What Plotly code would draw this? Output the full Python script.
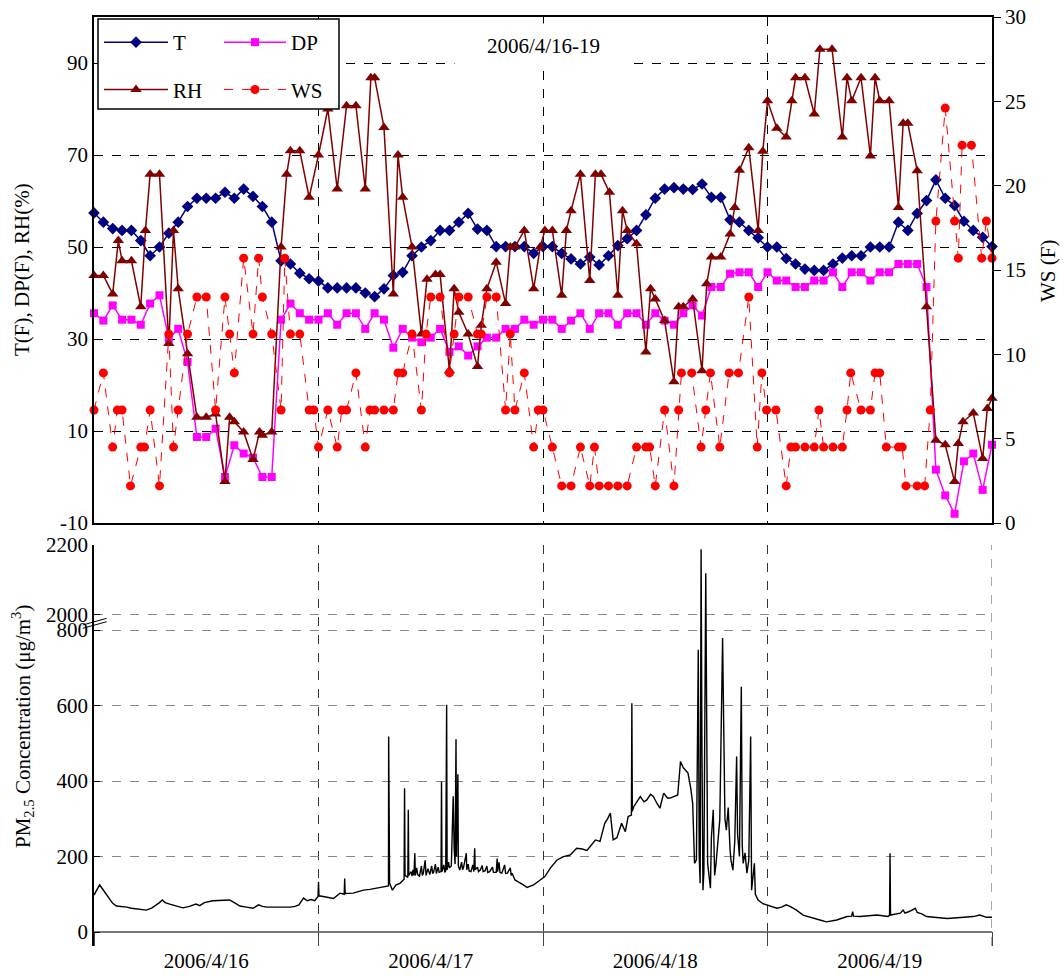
import plotly.graph_objects as go
import pandas as pd

# ---------------- data ----------------
BASE = pd.Timestamp("2006-04-16 00:00")

hours_hourly = list(range(97))  # hourly observation times (h after 4/16 00:00)

T_vals = [57.4, 55.4, 54.0, 53.6, 53.6, 51.4, 48.1, 50.0, 53.0, 55.4,
          58.8, 60.6, 60.6, 60.6, 61.9, 60.6, 62.6, 61.0, 58.8, 55.4,
          47.0, 46.3, 44.3, 43.1, 42.6, 41.1, 41.1, 41.1, 41.1, 40.0,
          39.2, 40.9, 43.8, 44.5, 48.1, 50.0, 51.4, 53.6, 53.6, 55.4,
          57.3, 53.9, 53.6, 50.1, 50.1, 50.1, 50.1, 48.6, 50.1, 50.1,
          48.6, 47.4, 46.3, 47.8, 46.1, 48.1, 50.3, 51.8, 53.6, 57.0,
          60.6, 62.6, 62.9, 62.6, 62.5, 63.7, 60.8, 60.8, 55.9, 55.4,
          53.6, 52.0, 50.0, 50.0, 47.5, 46.3, 45.2, 44.9, 44.9, 46.3,
          47.6, 48.1, 48.1, 50.0, 50.0, 50.0, 55.4, 53.6, 57.3, 60.1,
          64.6, 60.6, 59.0, 55.6, 53.6, 52.1, 50.1]

DP_vals = [35.6, 34.0, 37.3, 34.2, 34.2, 33.1, 37.7, 39.5, 30.1, 32.2,
           25.0, 8.7, 8.7, 10.5, 0.0, 6.9, 5.1, 4.2, 0.0, 0.0,
           34.2, 37.7, 35.6, 34.2, 34.2, 35.6, 33.1, 35.6, 35.6, 32.2,
           35.6, 34.2, 28.1, 32.2, 30.3, 29.3, 30.3, 32.2, 27.2, 28.4,
           26.4, 28.4, 30.3, 30.3, 32.2, 32.2, 34.2, 33.1, 34.2, 34.2,
           32.2, 34.0, 35.6, 32.2, 35.6, 35.6, 33.1, 35.6, 35.6, 33.1,
           35.6, 34.0, 33.1, 35.6, 37.3, 35.1, 41.3, 41.3, 44.2, 44.5,
           44.5, 41.3, 44.5, 42.7, 42.7, 41.3, 41.3, 42.7, 42.7, 44.5,
           41.3, 44.5, 44.5, 42.7, 44.5, 44.5, 46.3, 46.3, 46.3, 41.3,
           1.6, -4.0, -8.0, 3.4, 5.1, -2.8, 7.0]

RH_hours = [0, 1, 2, 2.6, 3, 4, 5, 5.5, 6, 7, 8, 8.5, 9, 10, 11, 12, 13, 14, 14.5, 15,
            16, 17, 17.7, 18, 19, 20, 20.6, 21, 22, 23, 24, 25, 26, 27, 28, 29, 29.6, 30,
            31, 32, 32.5, 33, 34, 35, 35.6, 36.5, 37, 38, 38.5, 39, 40, 41, 41.4, 42, 43,
            44, 44.5, 45, 46, 47, 47.7, 48.2, 49, 50, 50.5, 51, 52, 53, 53.6, 54.2, 55.1,
            56, 56.5, 57, 58, 59, 59.5, 60, 61, 62, 62.5, 63, 64, 65, 65.5, 66, 67, 68,
            68.5, 69, 70, 71, 71.5, 72, 73, 74, 74.6, 75, 76, 77, 77.6, 78.9, 80, 80.5,
            81, 82, 83, 83.5, 84, 85, 86, 86.5, 87, 88, 89, 90, 91, 92, 92.4, 92.9, 94,
            95, 95.5, 96]
RH_vals = [43.8, 43.8, 39.8, 51.4, 47.0, 47.0, 37.0, 53.6, 65.8, 65.8, 29.0, 53.6, 40.9,
           26.8, 13.0, 13.0, 13.7, -1.0, 13.0, 12.0,
           9.8, 3.8, 9.8, 9.1, 9.8, 50.0, 65.8, 70.9, 70.9, 60.8, 70.0, 80.0, 62.6, 80.7,
           80.7, 62.6, 86.8, 86.8,
           76.0, 39.8, 70.0, 60.8, 50.0, 31.1, 43.0, 44.0, 44.0, 23.1, 40.9, 35.8, 31.1,
           24.0, 33.0, 40.9, 46.7,
           37.7, 50.0, 50.0, 53.6, 40.9, 50.0, 53.6, 53.6, 39.5, 53.6, 57.9, 65.8, 42.7,
           65.8, 65.8, 61.9,
           39.5, 57.9, 53.6, 50.7, 27.2, 40.9, 38.7, 34.0, 20.7, 37.0, 37.0, 38.7, 23.1,
           42.0, 47.8, 47.8, 52.8,
           58.6, 66.7, 71.6, 53.6, 70.8, 81.8, 75.8, 73.9, 81.8, 86.8, 86.8, 78.9, 93.0,
           93.0, 73.9, 86.8,
           81.8, 86.8, 69.8, 86.8, 81.8, 81.8, 58.6, 76.9, 76.9, 66.6, 37.0, 8.0, 7.0, -1.0,
           7.3, 12.0, 13.9,
           4.0, 14.9, 17.1]

WS_hours = [0, 1, 2, 2.5, 3, 3.9, 5, 5.4, 6, 7, 8, 8.5, 9, 10, 11, 12, 13, 14, 14.5, 15,
            16, 17, 17.6, 18, 19, 20, 20.4, 21, 22, 23, 23.5, 24, 25, 26, 26.5, 27, 28, 29,
            29.5, 30, 31, 32, 32.5, 33, 34, 35, 35.5, 36, 37, 38, 38.5, 39, 40, 41, 41.4,
            42, 43, 44, 44.5, 45, 46, 47, 47.5, 48, 49, 50, 51, 52, 53, 53.5, 54, 55, 56,
            57, 58, 59, 59.4, 60, 61, 62, 62.5, 62.8, 63.9, 64.9, 65.4, 65.9, 66.9, 67.9,
            68.9, 70, 70.9, 71.4, 71.9, 72.9, 74, 74.5, 75, 76, 77, 77.5, 78, 79, 80, 80.5,
            80.9, 82, 83, 83.5, 84, 84.7, 86, 86.4, 86.8, 88, 88.8, 89.4, 90, 91, 92, 92.4,
            92.8, 93.8, 94.9, 95.4, 96]
WS_vals = [6.7, 8.9, 4.5, 6.7, 6.7, 2.2, 4.5, 4.5, 6.7, 2.2, 11.2, 4.5, 6.7, 11.2, 13.4,
           13.4, 6.7, 13.4, 11.2, 8.9,
           15.7, 11.2, 15.7, 13.4, 11.2, 6.7, 15.7, 11.2, 11.2, 6.7, 6.7, 4.5, 6.7, 4.5,
           6.7, 6.7, 8.9, 4.5,
           6.7, 6.7, 6.7, 6.7, 8.9, 8.9, 11.2, 6.7, 11.2, 13.4, 13.4, 8.9, 11.2, 13.4,
           13.4, 11.2, 11.2,
           13.4, 13.4, 6.7, 11.2, 6.7, 8.9, 4.5, 6.7, 6.7, 4.5, 2.2, 2.2, 4.5, 2.2, 4.5,
           2.2, 2.2, 2.2,
           2.2, 4.5, 4.5, 4.5, 2.2, 6.7, 2.2, 6.7, 8.9, 8.9, 4.5, 6.7, 8.9, 4.5, 8.9,
           8.9, 13.4, 4.5, 8.9, 6.7, 6.7, 2.2, 4.5, 4.5, 4.5, 4.5, 6.7, 4.5, 4.5, 4.5, 6.7,
           8.9, 6.7, 6.7, 8.9, 8.9, 4.5, 4.5, 4.5, 2.2, 2.2, 2.2, 6.7, 17.9, 24.6, 17.9, 15.7,
           22.4, 22.4, 15.7, 17.9, 15.7]

PM_hours = [0.0, 0.3, 0.6, 0.8, 1.0, 1.4, 1.7, 2.0, 2.4, 3.0, 3.5, 4.0, 4.5, 5.0, 5.6, 6.2,
            6.7, 7.0, 7.3, 7.6, 8.1, 8.8, 9.5, 10.2, 10.9, 11.3, 11.8, 12.7, 13.5, 14.5,
            15.0, 15.6, 16.3, 17.0, 17.6, 18.0, 18.5, 19.5, 20.3, 21.0, 21.5, 21.9, 22.4,
            22.8, 23.2, 23.6, 23.95, 24.0, 24.05, 24.5, 25.0, 25.6, 26.3, 26.75, 26.8,
            26.85, 27.7, 28.3, 28.8, 29.5, 30.2, 30.8, 31.4, 31.48, 31.5, 31.52, 31.6,
            31.9, 32.3, 32.7, 33.0, 33.15, 33.2, 33.25, 33.55, 33.6, 33.65,
            33.9, 34.0, 34.1, 34.2, 34.3, 34.35, 34.5, 34.6, 34.8, 35.0, 35.1, 35.2, 35.4,
            35.5, 35.7, 35.9, 36.1, 36.2, 36.3, 36.5, 36.6, 36.8, 36.9, 37.1, 37.15, 37.2,
            37.4, 37.5, 37.6, 37.7, 37.75, 37.9, 38.0, 38.2, 38.3, 38.4, 38.5, 38.6, 38.7,
            38.75, 38.9, 38.95, 39.1, 39.3, 39.4, 39.5, 39.8, 39.85, 40.0, 40.1, 40.3, 40.5,
            40.6, 40.7, 40.75, 41.0, 41.1, 41.3, 41.5, 41.6, 41.8, 42.0, 42.1, 42.3, 42.6,
            42.7, 43.0, 43.1, 43.15, 43.3, 43.4, 43.6, 43.9, 44.0, 44.2, 44.5, 44.6, 44.7,
            45.0, 45.4, 45.9, 46.3, 47.0, 47.7, 48.2, 48.8,
            49.5, 50.2, 50.9, 51.6, 52.2, 52.7, 53.2, 53.6, 54.1, 54.6, 54.9, 55.2, 55.5,
            55.9, 56.4, 56.8, 57.1, 57.45, 57.5, 57.55, 57.7, 58.4, 58.8, 59.1, 59.5, 59.8,
            60.2, 60.5, 60.9, 61.3, 61.6, 62.0, 62.4, 62.7, 63.0, 63.2, 63.5, 63.8, 64.0,
            64.2, 64.4, 64.6, 64.7, 64.8, 64.9, 65.0, 65.1, 65.2, 65.4, 65.6, 65.9, 66.0,
            66.2, 66.35, 66.5, 66.9, 67.2, 67.3, 67.45, 67.6, 67.8, 68.0, 68.1, 68.3, 68.5,
            68.7, 68.8, 69.0, 69.2, 69.3, 69.4, 69.6, 69.8, 70.0, 70.2, 70.3, 70.5, 70.6,
            70.7, 71.0, 71.5, 71.9, 72.3, 73.0, 73.5,
            74.0, 74.4, 75.1, 75.8, 76.9, 77.6, 78.3, 79.4, 80.5, 81.0, 81.1, 81.2, 81.9,
            82.8, 83.7, 84.3, 84.9, 85.05, 85.1, 85.15, 85.6, 86.2, 86.5, 86.7, 87.2, 87.8,
            88.0, 88.5, 89.0, 90.0, 91.2, 92.3, 93.3, 94.0, 94.7, 95.4, 96.0]
PM_vals = [98, 112, 125, 118, 111, 98, 85, 76, 69, 68, 66, 63, 62, 60, 58, 64,
           72, 78, 85, 78, 74, 70, 64, 68, 74, 70, 78, 83, 84, 85,
           78, 69, 66, 63, 72, 68, 66, 67, 66, 66, 68, 72, 90,
           83, 86, 83, 94, 133, 96, 94, 92, 89, 103, 100, 142,
           102, 103, 108, 111, 113, 116, 118, 120, 122, 518, 173, 130,
           111, 125, 129, 138, 140, 381, 150, 145, 324, 150,
           160, 148, 165, 150, 209, 150, 170, 152, 148, 175, 150, 155, 190,
           150, 168, 152, 175, 155, 158, 180, 155, 172, 158, 160, 399, 160,
           178, 158, 162, 602, 165, 185, 170, 175, 300, 360, 222, 180, 511,
           200, 418, 175, 164, 185, 165, 170, 209, 165, 180, 162, 160, 178,
           160, 222, 165, 172, 160, 164, 176, 160, 162, 175, 158, 160, 172,
           158, 158, 195, 160, 185, 158, 156, 178, 155, 156, 170, 150, 156,
           138, 133, 125, 118, 125, 138, 147, 170,
           191, 200, 204, 222, 220, 216, 232, 244, 240, 288, 300, 315, 244,
           250, 288, 266, 306, 310, 606, 320, 332, 359, 345, 350, 365, 359,
           340, 328, 368, 355, 355, 360, 363, 452, 435, 430, 421, 380, 341,
           182, 191, 748, 200, 129, 2188, 465, 111, 160, 2119, 182, 116, 250,
           324, 150, 182, 297, 779, 580, 300, 270, 330, 217, 190, 164, 240,
           465, 260, 200, 650, 230, 182, 210, 156, 190, 518, 111, 150, 182,
           100, 85, 75, 72, 67, 63, 66,
           72, 68, 58, 45, 36, 32, 27, 32, 41, 42, 54, 42, 41,
           44, 45, 43, 41, 45, 209, 45, 48, 50, 58, 50, 55, 63,
           52, 48, 41, 38, 36, 38, 39, 41, 45, 39, 39]

PM_ticks = [0, 200, 400, 600, 800, 2000, 2200]
LEFT_TICKS = [-10, 10, 30, 50, 70, 90]
WS_TICKS = [0, 5, 10, 15, 20, 25, 30]

# ---------------- helpers ----------------
FONT = "Liberation Serif"
GAP = 40.6          # axis units used by the 800 -> 2000 break
UPPER_SCALE = 0.924  # compression of the 2000-2200 section


def to_time(hours):
    return [BASE + pd.Timedelta(hours=h) for h in hours]


def pm_axis(v):
    if v <= 800:
        return v
    if v >= 2000:
        return 800 + GAP + (v - 2000) * UPPER_SCALE
    return 800 + (v - 800) / 1200 * GAP


def px_x(px):
    return (px - 94) / 898


def px_y(py):
    return (946 - py) / 929


x_range = [BASE, BASE + pd.Timedelta(days=4)]

fig = go.Figure()

fig.add_trace(go.Scatter(
    x=to_time(hours_hourly), y=T_vals, name="T", mode="lines+markers",
    line=dict(color="#000080", width=1.5),
    marker=dict(symbol="diamond", size=9, color="#000080"),
    xaxis="x", yaxis="y", legend="legend", legendgroup="t", cliponaxis=False))
fig.add_trace(go.Scatter(
    x=to_time(hours_hourly), y=DP_vals, name="DP", mode="lines+markers",
    line=dict(color="#FF00FF", width=1.5),
    marker=dict(symbol="square", size=8, color="#FF00FF"),
    xaxis="x", yaxis="y", legend="legend2", legendgroup="dp", cliponaxis=False))
fig.add_trace(go.Scatter(
    x=to_time(RH_hours), y=RH_vals, name="RH", mode="lines+markers",
    line=dict(color="#800000", width=1.5),
    marker=dict(symbol="triangle-up", size=10, color="#800000"),
    xaxis="x", yaxis="y", legend="legend", legendgroup="rh", cliponaxis=False))
fig.add_trace(go.Scatter(
    x=to_time(WS_hours), y=WS_vals, name="WS", mode="lines+markers",
    line=dict(color="#FF0000", width=1, dash="dash"),
    marker=dict(symbol="circle", size=9, color="#FF0000"),
    xaxis="x", yaxis="y2", legend="legend2", legendgroup="ws", cliponaxis=False))

fig.add_trace(go.Scatter(
    x=to_time(PM_hours), y=[pm_axis(v) for v in PM_vals], mode="lines",
    line=dict(color="black", width=1.4), showlegend=False,
    xaxis="x2", yaxis="y3"))

TOP_BOTTOM = px_y(523)
BOT_TOP = px_y(545)
tickfont = dict(family=FONT, size=21, color="black")

fig.update_layout(
    template="none",
    width=1064, height=976,
    margin=dict(l=94, r=72, t=17, b=30, pad=0),
    paper_bgcolor="white", plot_bgcolor="white",
    font=dict(family=FONT, size=21, color="black"),
    xaxis=dict(domain=[0, 1], anchor="y", type="date", range=x_range,
               showticklabels=False, ticks="", dtick=86400000, tick0=BASE,
               showgrid=True, gridcolor="black", griddash="dash", gridwidth=1,
               showline=True, mirror=True, linecolor="black", linewidth=1.5,
               zeroline=False, automargin=False),
    yaxis=dict(domain=[TOP_BOTTOM, 1], anchor="x", range=[-10, 100],
               tickvals=LEFT_TICKS, ticktext=[str(v) for v in LEFT_TICKS],
               ticks="inside", ticklen=5, tickcolor="black",
               showgrid=True, gridcolor="black", griddash="dash", gridwidth=1,
               showline=True, linecolor="black", linewidth=1.5, zeroline=False,
               tickfont=tickfont, automargin=False),
    yaxis2=dict(overlaying="y", side="right", anchor="x", range=[0, 30],
                tickvals=WS_TICKS, ticks="outside", ticklen=7, tickcolor="black",
                showgrid=False, zeroline=False, showline=True, linecolor="black",
                linewidth=1.5, tickfont=tickfont, automargin=False),
    xaxis2=dict(domain=[0, 1], anchor="y3", type="date", range=x_range,
                dtick=86400000, tick0=BASE, ticklabelmode="period",
                tickformat="%Y/%-m/%-d", ticks="inside", ticklen=14,
                tickcolor="#444", showgrid=True, gridcolor="#333",
                griddash="dash", gridwidth=1, showline=False, zeroline=False,
                tickfont=tickfont, automargin=False),
    yaxis3=dict(domain=[0, BOT_TOP], anchor="x2",
                range=[-37, pm_axis(2200)],
                tickvals=[pm_axis(v) for v in PM_ticks],
                ticktext=[str(v) for v in PM_ticks],
                ticks="inside", ticklen=6, tickcolor="black",
                showgrid=True, gridcolor="#888", griddash="dash", gridwidth=1.2,
                zeroline=True, zerolinecolor="#777", zerolinewidth=1.5,
                showline=True, linecolor="black", linewidth=1.5,
                tickfont=tickfont, automargin=False),
    legend=dict(x=px_x(99), y=px_y(22), xanchor="left", yanchor="top",
                bgcolor="rgba(0,0,0,0)", borderwidth=0, itemwidth=64,
                traceorder="grouped", tracegroupgap=17,
                font=dict(family=FONT, size=21, color="black")),
    legend2=dict(x=px_x(219), y=px_y(22), xanchor="left", yanchor="top",
                 bgcolor="rgba(0,0,0,0)", borderwidth=0, itemwidth=62,
                 traceorder="grouped", tracegroupgap=17,
                 font=dict(family=FONT, size=21, color="black")),
    showlegend=True,
)

# legend frame (white box covering grid lines)
fig.add_shape(type="rect", xref="paper", yref="paper",
              x0=px_x(98), x1=px_x(339), y0=px_y(109), y1=px_y(19),
              fillcolor="white", line=dict(color="black", width=1.5), layer="above")

# right edge grid line of the lower panel
fig.add_shape(type="line", xref="x2", yref="paper",
              x0=x_range[1], x1=x_range[1], y0=0, y1=BOT_TOP,
              line=dict(color="#555", width=1, dash="dash"))

# axis-break marks on the PM2.5 axis
for yb, yt in [(625, 618.3), (628.3, 621.7)]:
    fig.add_shape(type="line", xref="paper", yref="paper",
                  x0=px_x(82.7), x1=px_x(106.7), y0=px_y(yb), y1=px_y(yt),
                  line=dict(color="black", width=1))

# panel title
fig.add_annotation(text="2006/4/16-19", xref="paper", yref="paper",
                   x=px_x(543), y=px_y(46), xanchor="center", yanchor="middle",
                   showarrow=False, bgcolor="white", width=175, height=42,
                   font=dict(family=FONT, size=21, color="black"))

# axis titles
fig.add_annotation(text="T(F), DP(F), RH(%)", xref="paper", yref="paper",
                   x=px_x(22), y=px_y(270), xanchor="center", yanchor="middle",
                   textangle=-90, showarrow=False,
                   font=dict(family=FONT, size=21, color="black"))
fig.add_annotation(text="WS (F)", xref="paper", yref="paper",
                   x=px_x(1048), y=px_y(271), xanchor="center", yanchor="middle",
                   textangle=-90, showarrow=False,
                   font=dict(family=FONT, size=21, color="black"))
fig.add_annotation(text="PM<sub>2.5</sub> Concentration (μg/m<sup>3</sup>)",
                   xref="paper", yref="paper",
                   x=px_x(22), y=px_y(727), xanchor="center", yanchor="middle",
                   textangle=-90, showarrow=False,
                   font=dict(family=FONT, size=21, color="black"))

fig.write_html(
    "out.html",
    config={"displayModeBar": False},
    post_script="document.body.style.margin='0';document.body.style.padding='0';",
)
